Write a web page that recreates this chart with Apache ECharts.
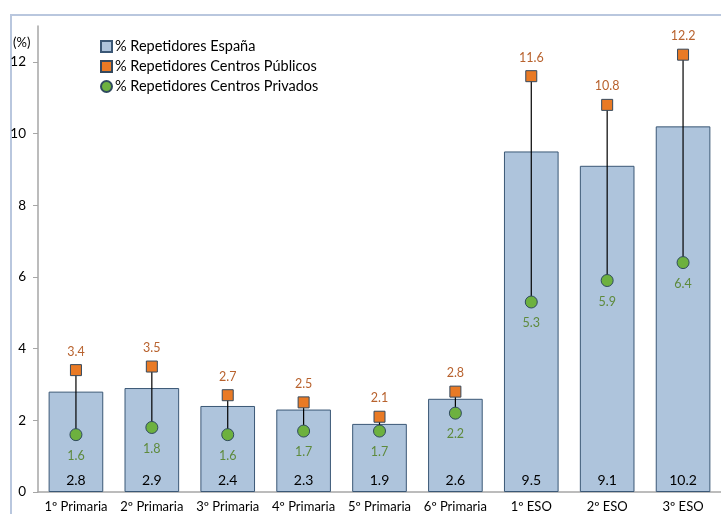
<!DOCTYPE html>
<html>
<head>
<meta charset="utf-8">
<script src="https://cdn.jsdelivr.net/npm/echarts@6/dist/echarts.min.js"></script>
<style>
  html, body { margin: 0; padding: 0; background: #fff; }
  #chart { width: 721px; height: 514px; }
</style>
</head>
<body>
<div id="chart"></div>
<script>
var categories = ['1º Primaria', '2º Primaria', '3º Primaria', '4º Primaria', '5º Primaria', '6º Primaria', '1º ESO', '2º ESO', '3º ESO'];
var espana = [2.8, 2.9, 2.4, 2.3, 1.9, 2.6, 9.5, 9.1, 10.2];
var publicos = [3.4, 3.5, 2.7, 2.5, 2.1, 2.8, 11.6, 10.8, 12.2];
var privados = [1.6, 1.8, 1.6, 1.7, 1.7, 2.2, 5.3, 5.9, 6.4];
var yTicks = [0, 2, 4, 6, 8, 10, 12];

var FONT = 'Lato';
var chart = echarts.init(document.getElementById('chart'));

// vertical link between public and private marker of each category
var linkData = categories.map(function (c, i) { return [i, publicos[i], privados[i]]; });

var option = {
  animation: false,
  textStyle: { fontFamily: FONT },
  graphic: [{
    type: 'rect',
    shape: { x: 11, y: 15, width: 740, height: 540 },
    style: { fill: 'none', stroke: '#B9C7DE', lineWidth: 2 },
    silent: true
  }, {
    type: 'text',
    left: 13, top: 36,
    style: { text: '(%)', font: '13px ' + FONT, fill: '#000' }
  }],
  legend: {
    orient: 'vertical',
    left: 95, top: 34,
    itemWidth: 11, itemHeight: 11, itemGap: 5,
    textStyle: { fontSize: 14.5, color: '#000', fontFamily: FONT, padding: [0, 0, 0, -2] },
    data: [
      { name: '% Repetidores España', icon: 'rect' },
      { name: '% Repetidores Centros Públicos', icon: 'rect' },
      { name: '% Repetidores Centros Privados', icon: 'circle' }
    ]
  },
  grid: { left: 38, right: -10, top: 26, bottom: 22, containLabel: false },
  xAxis: {
    type: 'category',
    data: categories,
    axisLine: { lineStyle: { color: '#A6A6A6', width: 1.5 } },
    axisTick: { lineStyle: { color: '#A6A6A6' }, length: 5 },
    axisLabel: { color: '#000', fontSize: 13, margin: 8, interval: 0, hideOverlap: false, fontFamily: FONT }
  },
  yAxis: {
    type: 'value',
    min: 0, max: 13, interval: 2,
    splitLine: { show: false },
    axisLine: { show: true, lineStyle: { color: '#A6A6A6', width: 1.5 } },
    axisTick: { show: true, length: 5, lineStyle: { color: '#A6A6A6' }, customValues: yTicks },
    axisLabel: { color: '#000', fontSize: 13.5, margin: 12, customValues: yTicks, fontFamily: FONT }
  },
  series: [{
    name: '% Repetidores España',
    type: 'bar',
    data: espana,
    barCategoryGap: '28%',
    itemStyle: { color: '#AEC4DC', borderColor: '#3B5876', borderWidth: 1 },
    label: {
      show: true, position: 'insideBottom', distance: 5,
      color: '#000', fontSize: 14, fontFamily: FONT
    },
    z: 1
  }, {
    type: 'custom',
    data: linkData,
    renderItem: function (params, api) {
      var p1 = api.coord([api.value(0), api.value(1)]);
      var p2 = api.coord([api.value(0), api.value(2)]);
      return {
        type: 'line',
        shape: { x1: p1[0], y1: p1[1], x2: p2[0], y2: p2[1] },
        style: { stroke: '#000', lineWidth: 1.2 }
      };
    },
    encode: { x: 0, y: [1, 2] },
    silent: true,
    z: 2
  }, {
    name: '% Repetidores Centros Públicos',
    type: 'scatter',
    data: publicos,
    symbol: 'rect',
    symbolSize: 11,
    itemStyle: { color: '#E97A25', borderColor: '#34495E', borderWidth: 1, opacity: 1 },
    label: {
      show: true, position: 'top', distance: 6,
      color: '#B8622E', fontSize: 12.5, fontFamily: FONT
    },
    z: 3
  }, {
    name: '% Repetidores Centros Privados',
    type: 'scatter',
    data: privados,
    symbol: 'circle',
    symbolSize: 12,
    itemStyle: { color: '#6DB13F', borderColor: '#2F4A5E', borderWidth: 1, opacity: 1 },
    label: {
      show: true, position: 'bottom', distance: 8,
      color: '#5E8A3C', fontSize: 12.5, fontFamily: FONT
    },
    z: 3
  }]
};

chart.setOption(option);
</script>
</body>
</html>
